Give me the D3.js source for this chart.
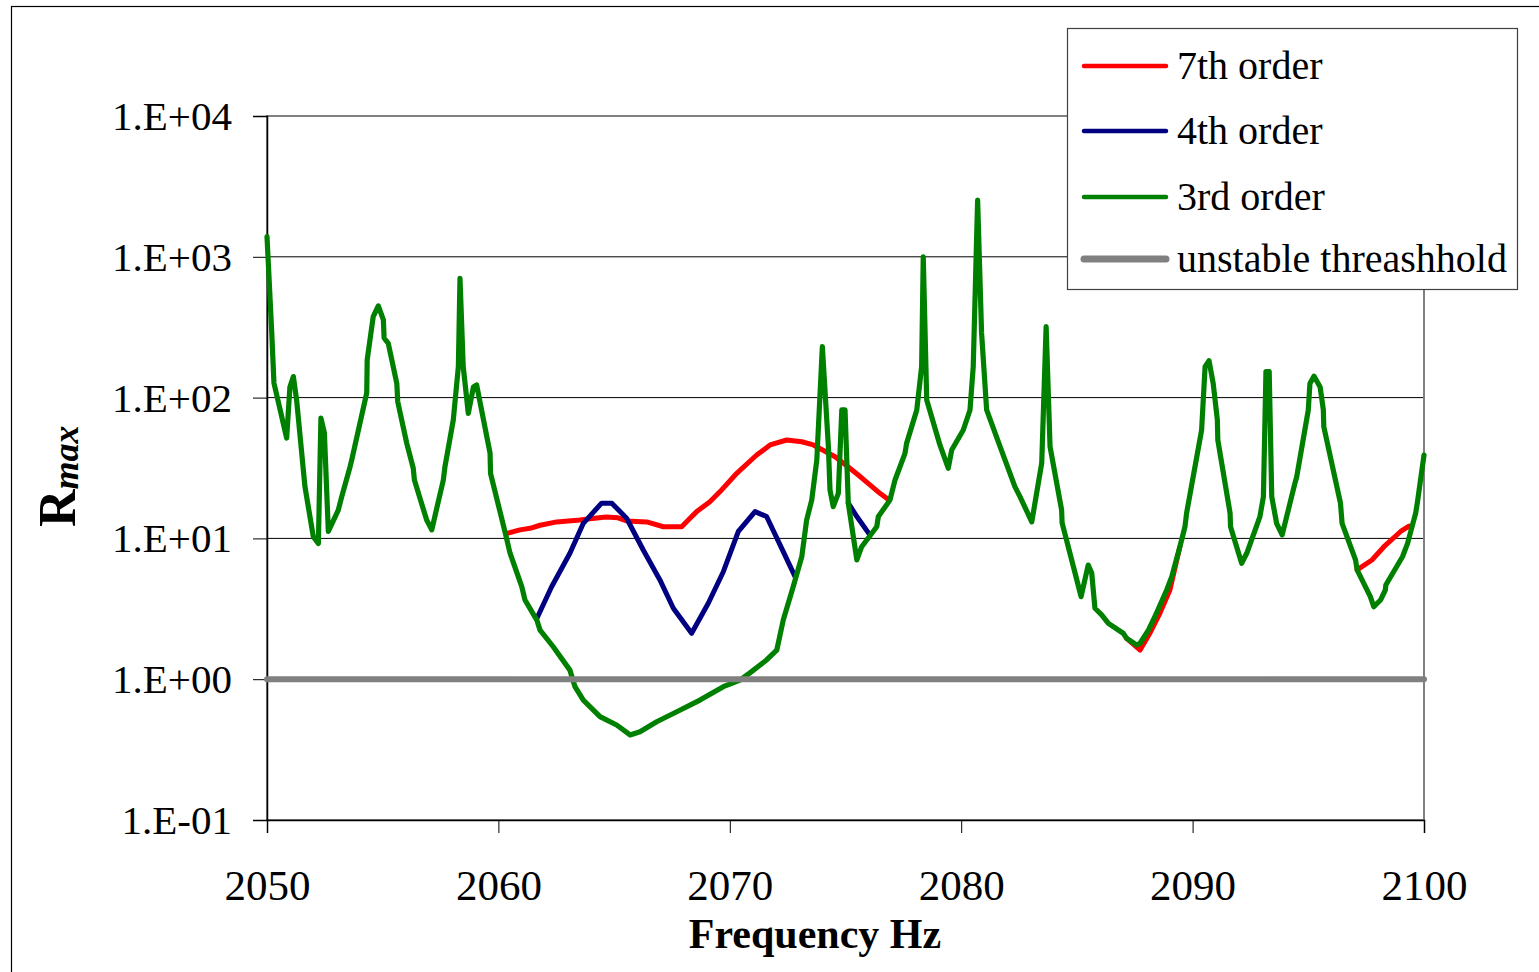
<!DOCTYPE html>
<html>
<head>
<meta charset="utf-8">
<script src="https://cdn.jsdelivr.net/npm/d3@7"></script>
<style>
  body { margin: 0; background: #fff; }
  text { font-family: "Liberation Serif", "Times New Roman", serif; }
</style>
</head>
<body>
<script>
// frequency (Hz), Rmax
var thirdOrder = [
  [2050.00,1390],[2050.20,302],[2050.30,127],[2050.85,51.6],[2050.99,119],[2051.14,141],[2051.28,96],
  [2051.64,23.3],[2052.00,10.3],[2052.22,9.2],[2052.33,71.6],[2052.48,56.1],[2052.65,11.2],[2053.08,15.9],
  [2053.23,19.8],[2053.59,32.3],[2053.66,36.0],[2054.31,108],[2054.33,185],[2054.59,376],[2054.81,448],
  [2055.03,356],[2055.06,265],[2055.24,243],[2055.61,126],[2055.65,93.5],[2056.04,47.3],[2056.32,31.5],
  [2056.37,26.0],[2056.90,13.5],[2057.12,11.5],[2057.62,26.0],[2057.69,32.3],[2058.05,69.3],[2058.27,166],
  [2058.34,703],[2058.48,166],[2058.70,77.3],[2058.92,119],[2059.06,123],[2059.64,40.2],[2059.66,29.0],
  [2060.33,10.4],[2060.50,7.88],[2061.01,4.54],[2061.15,3.65],[2061.66,2.63],[2061.80,2.23],[2062.37,1.70],
  [2063.09,1.16],[2063.31,0.885],[2063.67,0.711],[2064.39,0.542],[2065.11,0.473],[2065.69,0.402],[2066.12,0.424],
  [2066.84,0.499],[2067.71,0.587],[2068.71,0.711],[2069.72,0.885],[2070.44,0.986],[2070.87,1.11],[2071.59,1.37],
  [2072.03,1.61],[2072.31,2.63],[2072.74,4.54],[2073.11,7.41],[2073.32,13.5],[2073.54,18.7],[2073.76,36.0],
  [2074.00,230],[2074.26,44.8],[2074.33,22.1],[2074.47,16.8],[2074.69,20.9],[2074.84,81.7],[2074.98,81.7],
  [2075.12,17.8],[2075.49,7.03],[2075.70,8.73],[2076.35,12.1],[2076.42,14.3],[2076.92,18.7],[2077.14,26.0],
  [2077.57,40.2],[2077.64,47.3],[2078.08,81.7],[2078.29,166],[2078.36,1000],[2078.51,96],[2079.08,46.1],
  [2079.44,31.5],[2079.59,42.4],[2080.09,58.9],[2080.38,81.7],[2080.52,166],[2080.71,2530],[2080.88,288],
  [2081.10,81.7],[2081.68,44.8],[2082.32,23.3],[2082.54,19.8],[2083.05,13.1],[2083.48,34.3],[2083.67,319],
  [2083.84,44.8],[2084.34,15.9],[2084.36,12.9],[2084.92,5.68],[2085.18,3.86],[2085.49,6.47],[2085.64,5.68],
  [2085.78,3.19],[2086.07,2.86],[2086.36,2.49],[2087.00,2.12],[2087.15,1.95],[2087.58,1.75],[2087.73,1.80],
  [2088.09,2.23],[2088.37,2.78],[2088.88,4.30],[2089.10,5.35],[2089.45,8.73],[2089.67,12.1],[2089.74,15.1],
  [2090.39,58.9],[2090.54,166],[2090.71,183],[2090.89,126],[2091.07,69.3],[2091.09,50.0],[2091.62,15.1],
  [2091.64,12.1],[2092.12,6.66],[2092.34,7.84],[2092.91,14.3],[2093.06,19.8],[2093.17,153],[2093.31,153],
  [2093.42,19.8],[2093.63,12.8],[2093.87,10.6],[2094.42,24.6],[2094.50,27.4],[2095.00,81.7],[2095.07,126],
  [2095.25,142],[2095.51,119],[2095.65,81.7],[2095.67,62.1],[2096.39,17.8],[2096.46,12.8],[2097.04,7.03],
  [2097.11,5.97],[2097.68,3.86],[2097.83,3.27],[2098.12,3.65],[2098.33,4.30],[2098.35,4.67],[2099.07,7.41],
  [2099.29,9.22],[2099.64,15.1],[2099.71,17.8],[2100.00,39.1]
]

// 7th order only where it leaves the 3rd order curve (null = gap)
var seventhOrder = [
  [2060.42,10.9],[2060.93,11.5],[2061.37,11.8],[2061.80,12.4],[2062.52,13.1],[2063.53,13.5],[2063.96,13.8],
  [2064.65,14.2],[2065.17,14.0],[2065.54,13.3],[2066.41,13.1],[2067.13,12.1],[2067.92,12.1],[2068.28,13.9],
  [2068.57,15.5],[2069.14,18.2],[2069.58,21.5],[2070.30,29.0],[2071.16,39.1],[2071.74,46.1],[2072.46,50.0],
  [2073.11,48.6],[2073.61,46.1],[2074.55,38.0],[2075.19,31.5],[2075.55,28.2],[2075.98,24.6],[2076.49,20.9],
  [2076.85,18.9],
  null,
  [2087.15,1.95],[2087.73,1.61],[2088.16,2.13],[2088.59,2.95],[2089.02,4.30],[2089.45,8.73],
  null,
  [2097.11,5.97],[2097.75,7.03],[2098.27,8.73],[2098.99,11.2],[2099.35,12.2]
]

var fourthOrder = [
  [2061.66,2.70],[2062.30,4.54],[2063.09,7.84],[2063.67,12.8],[2064.46,17.8],[2064.90,17.8],[2065.54,13.9],
  [2066.26,8.27],[2066.98,5.07],[2067.56,3.19],[2068.35,2.12],[2069.07,3.46],[2069.72,5.80],[2070.37,11.2],
  [2071.09,15.5],[2071.59,14.3],[2072.31,8.05],[2072.82,5.35],
  null,
  [2075.12,17.8],[2075.49,14.3],[2076.05,10.6]
]

var threshold = [[2050, 1], [2100, 1]]

var xTicks = [2050, 2060, 2070, 2080, 2090, 2100]
var yTicks = [0.1, 1, 10, 100, 1000, 10000]
var yTickLabels = ["1.E-01", "1.E+00", "1.E+01", "1.E+02", "1.E+03", "1.E+04"]

var legendNames = ["7th order", "4th order", "3rd order", "unstable threashhold"]
var legendColors = ["#ff0000", "#000080", "#008000", "#808080"]

function main() {
  var svg = d3.select("body").append("svg")
    .attr("width", 1539).attr("height", 972)

  svg.append("rect").attr("width", 1539).attr("height", 972).attr("fill", "#fff")
  // outer chart frame
  svg.append("rect")
    .attr("x", 11.5).attr("y", 6.5).attr("width", 1560).attr("height", 1000)
    .attr("fill", "none").attr("stroke", "#000").attr("stroke-width", 1.2)

  var x = d3.scaleLinear().domain([2050, 2100]).range([267, 1424])
  var y = d3.scaleLog().domain([0.1, 10000]).range([820, 116])

  // gridlines
  svg.append("g").selectAll("line")
    .data(yTicks.slice(1))
    .enter().append("line")
    .attr("x1", x(2050)).attr("x2", x(2100))
    .attr("y1", function(d) { return y(d) }).attr("y2", function(d) { return y(d) })
    .attr("stroke", "#000").attr("stroke-width", 1)

  // plot area border
  svg.append("rect")
    .attr("x", x(2050)).attr("y", y(10000))
    .attr("width", x(2100) - x(2050)).attr("height", y(0.1) - y(10000))
    .attr("fill", "none").attr("stroke", "#808080").attr("stroke-width", 2)

  var yAxis = d3.axisLeft(y).tickValues(yTicks).tickSize(14).tickPadding(21)
    .tickFormat(function(d, i) { return yTickLabels[i] })
  var gy = svg.append("g").attr("transform", "translate(" + x(2050) + ",0)").call(yAxis)
  gy.select(".domain").attr("stroke", "#000").attr("stroke-width", 1.5)
  gy.selectAll(".tick line").attr("stroke", "#000")
  gy.selectAll("text").attr("font-size", 41).attr("fill", "#000")
    .attr("font-family", "Liberation Serif").attr("dy", "0.33em")

  var xAxis = d3.axisBottom(x).tickValues(xTicks).tickSize(13).tickFormat(d3.format("d"))
  var gx = svg.append("g").attr("transform", "translate(0," + y(0.1) + ")").call(xAxis)
  gx.select(".domain").attr("stroke", "#000").attr("stroke-width", 1.5)
  gx.selectAll(".tick line").attr("stroke", "#000")
  gx.selectAll("text").attr("font-size", 43).attr("fill", "#000")
    .attr("font-family", "Liberation Serif").attr("y", 80).attr("dy", 0)

  var line = d3.line()
    .defined(function(d) { return d != null })
    .x(function(d) { return x(d[0]) })
    .y(function(d) { return y(d[1]) })

  addSeries(svg, line, seventhOrder, legendColors[0], 5)
  addSeries(svg, line, fourthOrder, legendColors[1], 5)
  addSeries(svg, line, thirdOrder, legendColors[2], 5.2)
  addSeries(svg, line, threshold, legendColors[3], 6)

  // axis titles
  svg.append("text")
    .attr("x", 815).attr("y", 948)
    .attr("text-anchor", "middle")
    .attr("font-size", 42).attr("font-weight", "bold")
    .text("Frequency Hz")

  var yTitle = svg.append("text")
    .attr("transform", "translate(75,527) rotate(-90)")
    .attr("font-weight", "bold")
  yTitle.append("tspan").attr("font-size", 52).text("R")
  yTitle.append("tspan").attr("font-size", 36).attr("font-style", "italic").attr("dy", 3).text("max")

  // legend
  var lg = svg.append("g")
  lg.append("rect")
    .attr("x", 1067.5).attr("y", 28.5).attr("width", 450).attr("height", 261)
    .attr("fill", "#fff").attr("stroke", "#404040").attr("stroke-width", 1.2)
  var rowY = [66, 131, 197, 259]
  for (var i = 0; i < legendNames.length; i++) {
    lg.append("line")
      .attr("x1", 1084).attr("x2", 1166)
      .attr("y1", rowY[i]).attr("y2", rowY[i])
      .attr("stroke", legendColors[i])
      .attr("stroke-width", i == 3 ? 7 : 4.5)
      .attr("stroke-linecap", "round")
    lg.append("text")
      .attr("x", 1177).attr("y", rowY[i] + 13)
      .attr("font-size", 40)
      .text(legendNames[i])
  }
}

function addSeries(svg, line, data, color, width) {
  svg.append("path")
    .datum(data)
    .attr("d", line)
    .attr("fill", "none")
    .attr("stroke", color)
    .attr("stroke-width", width)
    .attr("stroke-linejoin", "round")
    .attr("stroke-linecap", "round")
}

main()
</script>
</body>
</html>
